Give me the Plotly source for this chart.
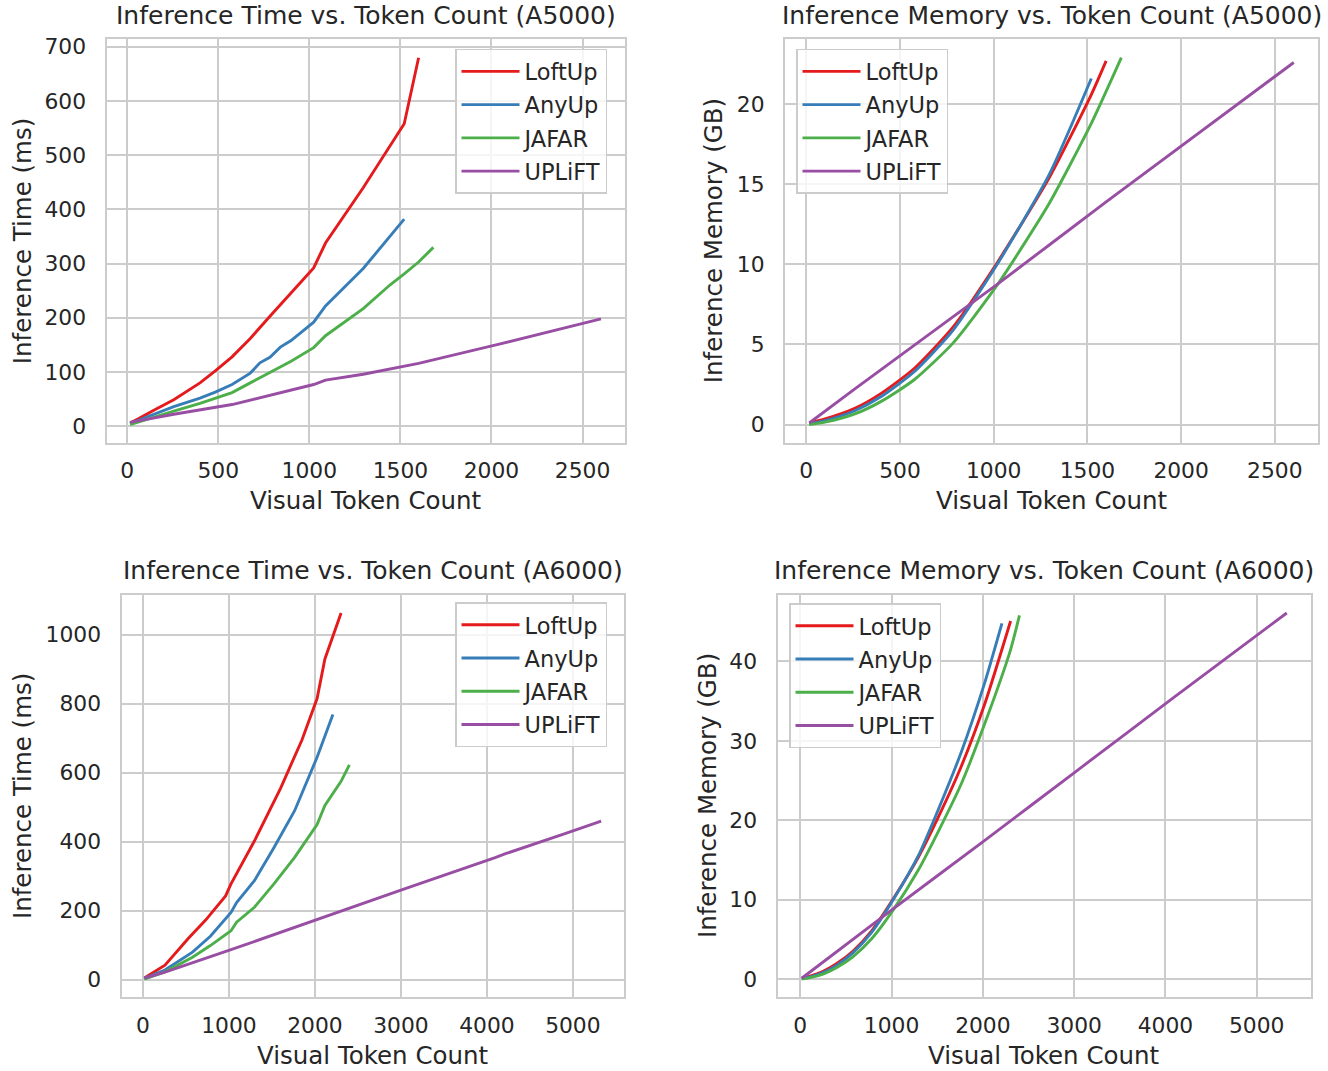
import plotly.graph_objects as go

W, H = 1328, 1071

# ---------------- data ----------------
# A5000 inference time (ms)
loftup_t5_x = [16, 64, 144, 256, 400, 484, 576, 676, 784, 900, 1024, 1089, 1296, 1521, 1600]
loftup_t5_y = [6, 14, 29, 49, 80, 102, 128, 162, 203, 247, 292, 338, 440, 558, 680]
anyup_t5_x = [16, 144, 256, 400, 484, 576, 676, 729, 784, 841, 900, 1024, 1089, 1296, 1521]
anyup_t5_y = [5, 22, 36, 52, 63, 77, 98, 117, 127, 146, 158, 192, 222, 291, 382]
jafar_t5_x = [16, 144, 256, 400, 576, 676, 900, 1024, 1089, 1296, 1444, 1521, 1600, 1681]
jafar_t5_y = [3, 17, 28, 42, 62, 80, 120, 145, 167, 217, 261, 281, 303, 330]
uplift_t5_x = [16, 256, 576, 1024, 1089, 1296, 1600, 2025, 2601]
uplift_t5_y = [7, 22, 40, 77, 85, 96, 116, 150, 198]

# A5000 inference memory (GB)
loftup_m5_x = [16, 100, 256, 400, 576, 784, 1024, 1296, 1521, 1600]
loftup_m5_y = [0.1, 0.35, 1.0, 1.95, 3.5, 6.1, 10.2, 15.4, 20.6, 22.7]
anyup_m5_x = [16, 100, 256, 400, 576, 784, 1024, 1296, 1521]
anyup_m5_y = [0.05, 0.25, 0.85, 1.75, 3.3, 5.9, 10.1, 15.6, 21.6]
jafar_m5_x = [16, 100, 256, 400, 576, 784, 1024, 1296, 1521, 1681]
jafar_m5_y = [0.0, 0.15, 0.65, 1.45, 2.8, 5.1, 8.8, 13.8, 18.8, 22.9]
uplift_m5_x = [16, 256, 1024, 1600, 2601]
uplift_m5_y = [0.1, 2.2, 8.8, 13.9, 22.6]

# A6000 inference time (ms)
loftup_t6_x = [16, 256, 529, 729, 961, 1024, 1296, 1600, 1849, 2025, 2116, 2304]
loftup_t6_y = [5, 42, 120, 173, 243, 278, 402, 555, 695, 815, 930, 1063]
anyup_t6_x = [16, 256, 576, 784, 1024, 1089, 1296, 1521, 1764, 2025, 2209]
anyup_t6_y = [4, 28, 80, 126, 195, 224, 287, 382, 490, 645, 769]
jafar_t6_x = [16, 256, 576, 784, 1024, 1089, 1296, 1521, 1764, 2025, 2116, 2304, 2401]
jafar_t6_y = [2, 23, 65, 99, 142, 167, 210, 277, 355, 450, 505, 575, 623]
uplift_t6_x = [16, 256, 1024, 2025, 3025, 4096, 4225, 4900, 5041, 5329]
uplift_t6_y = [5, 22, 87, 175, 262, 354, 366, 423, 435, 460]

# A6000 inference memory (GB)
loftup_m6_x = [16, 100, 256, 400, 576, 784, 1024, 1296, 1521, 1764, 2025, 2304]
loftup_m6_y = [0.1, 0.35, 1.0, 1.95, 3.5, 6.1, 10.2, 15.4, 20.6, 26.8, 34.8, 45.1]
anyup_m6_x = [16, 100, 256, 400, 576, 784, 1024, 1296, 1521, 1764, 2025, 2209]
anyup_m6_y = [0.05, 0.25, 0.85, 1.75, 3.3, 5.9, 10.1, 15.6, 21.6, 28.6, 37.5, 44.8]
jafar_m6_x = [16, 100, 256, 400, 576, 784, 1024, 1296, 1521, 1764, 2025, 2304, 2401]
jafar_m6_y = [0.0, 0.15, 0.65, 1.45, 2.8, 5.1, 8.8, 13.8, 18.8, 24.6, 32.3, 41.5, 45.8]
uplift_m6_x = [16, 1024, 2025, 3025, 4096, 5329]
uplift_m6_y = [0.1, 8.9, 17.5, 26.2, 35.5, 46.1]

methods = ["LoftUp", "AnyUp", "JAFAR", "UPLiFT"]
colors = ["#e41a1c", "#377eb8", "#4daf4a", "#984ea3"]

titles = [
    "Inference Time vs. Token Count (A5000)",
    "Inference Memory vs. Token Count (A5000)",
    "Inference Time vs. Token Count (A6000)",
    "Inference Memory vs. Token Count (A6000)",
]
ylabels = ["Inference Time (ms)", "Inference Memory (GB)",
           "Inference Time (ms)", "Inference Memory (GB)"]
xlabel = "Visual Token Count"

panel_data = [
    [(loftup_t5_x, loftup_t5_y), (anyup_t5_x, anyup_t5_y), (jafar_t5_x, jafar_t5_y), (uplift_t5_x, uplift_t5_y)],
    [(loftup_m5_x, loftup_m5_y), (anyup_m5_x, anyup_m5_y), (jafar_m5_x, jafar_m5_y), (uplift_m5_x, uplift_m5_y)],
    [(loftup_t6_x, loftup_t6_y), (anyup_t6_x, anyup_t6_y), (jafar_t6_x, jafar_t6_y), (uplift_t6_x, uplift_t6_y)],
    [(loftup_m6_x, loftup_m6_y), (anyup_m6_x, anyup_m6_y), (jafar_m6_x, jafar_m6_y), (uplift_m6_x, uplift_m6_y)],
]
smooth_panel = [False, True, False, True]

# ---------------- layout geometry (pixels) ----------------
boxes = [(106.5, 34.5, 624.5, 440), (785, 34.5, 1318, 440),
         (121.5, 592.5, 624, 997), (777.5, 592.5, 1311, 997)]
xdticks = [500, 500, 1000, 1000]
ydticks = [100, 5, 200, 10]
legend_pos = [(455, 44), (796, 44), (455, 600), (789, 601)]
ylabel_x = [22, 713, 22, 707]

TEXT = "#262626"
GRID = "#cccccc"
FONT = "DejaVu Sans"


def px_x(v):
    return v / W


def px_y(v):
    return 1 - v / H


def padded(vals):
    lo, hi = min(vals), max(vals)
    r = hi - lo
    return [lo - 0.05 * r, hi + 0.05 * r]


fig = go.Figure()
annotations = []
layout = {}

for i in range(4):
    ax = "" if i == 0 else str(i + 1)
    leg = "legend" if i == 0 else "legend%d" % (i + 1)
    allx, ally = [], []
    for j, (xs, ys) in enumerate(panel_data[i]):
        allx += xs
        ally += ys
        fig.add_trace(go.Scatter(
            x=xs, y=ys, mode="lines", name=methods[j],
            line=dict(color=colors[j], width=2.9,
                      shape="spline" if smooth_panel[i] else "linear",
                      smoothing=0.6),
            xaxis="x" + ax, yaxis="y" + ax, legend=leg,
            legendgroup="g%d_%d" % (i, j),
        ))
    x0, y0, x1, y1 = boxes[i]
    layout["xaxis" + ax] = dict(
        domain=[px_x(x0), px_x(x1)], anchor="y" + ax, range=padded(allx),
        dtick=xdticks[i], tick0=0, showgrid=True, gridcolor=GRID, gridwidth=1.5,
        showline=True, mirror=True, linecolor=GRID, linewidth=2.2, zeroline=False,
        ticks="", tickfont=dict(family=FONT, size=21.8, color=TEXT),
        ticklabelstandoff=7,
    )
    layout["yaxis" + ax] = dict(
        domain=[px_y(y1), px_y(y0)], anchor="x" + ax, range=padded(ally),
        dtick=ydticks[i], tick0=0, showgrid=True, gridcolor=GRID, gridwidth=1.5,
        showline=True, mirror=True, linecolor=GRID, linewidth=2.2, zeroline=False,
        ticks="", tickfont=dict(family=FONT, size=21.8, color=TEXT),
        ticklabelstandoff=14,
    )
    lx, ly = legend_pos[i]
    layout[leg] = dict(
        x=px_x(lx), y=px_y(ly), xanchor="left", yanchor="top",
        bgcolor="rgba(255,255,255,0.8)", bordercolor=GRID, borderwidth=1.5,
        font=dict(family=FONT, size=22.5, color=TEXT), itemwidth=58,
        tracegroupgap=1,
    )
    cx = (x0 + x1) / 2
    cy = (y0 + y1) / 2
    annotations.append(dict(text=titles[i], x=px_x(cx), y=px_y(y0 - 24),
                            xref="paper", yref="paper", showarrow=False,
                            xanchor="center", yanchor="middle",
                            font=dict(family=FONT, size=25, color=TEXT)))
    annotations.append(dict(text=xlabel, x=px_x(cx), y=px_y(y1 + 58),
                            xref="paper", yref="paper", showarrow=False,
                            xanchor="center", yanchor="middle",
                            font=dict(family=FONT, size=24.5, color=TEXT)))
    annotations.append(dict(text=ylabels[i], x=px_x(ylabel_x[i]), y=px_y(cy),
                            xref="paper", yref="paper", showarrow=False,
                            xanchor="center", yanchor="middle", textangle=-90,
                            font=dict(family=FONT, size=24.5, color=TEXT)))

fig.update_layout(
    width=W, height=H, margin=dict(l=0, r=0, t=0, b=0),
    paper_bgcolor="white", plot_bgcolor="white",
    font=dict(family=FONT, color=TEXT),
    annotations=annotations, showlegend=True,
    **layout,
)

fig.write_html("out.html", config={"displayModeBar": False},
               post_script="document.body.style.margin='0';document.body.style.overflow='hidden';")
